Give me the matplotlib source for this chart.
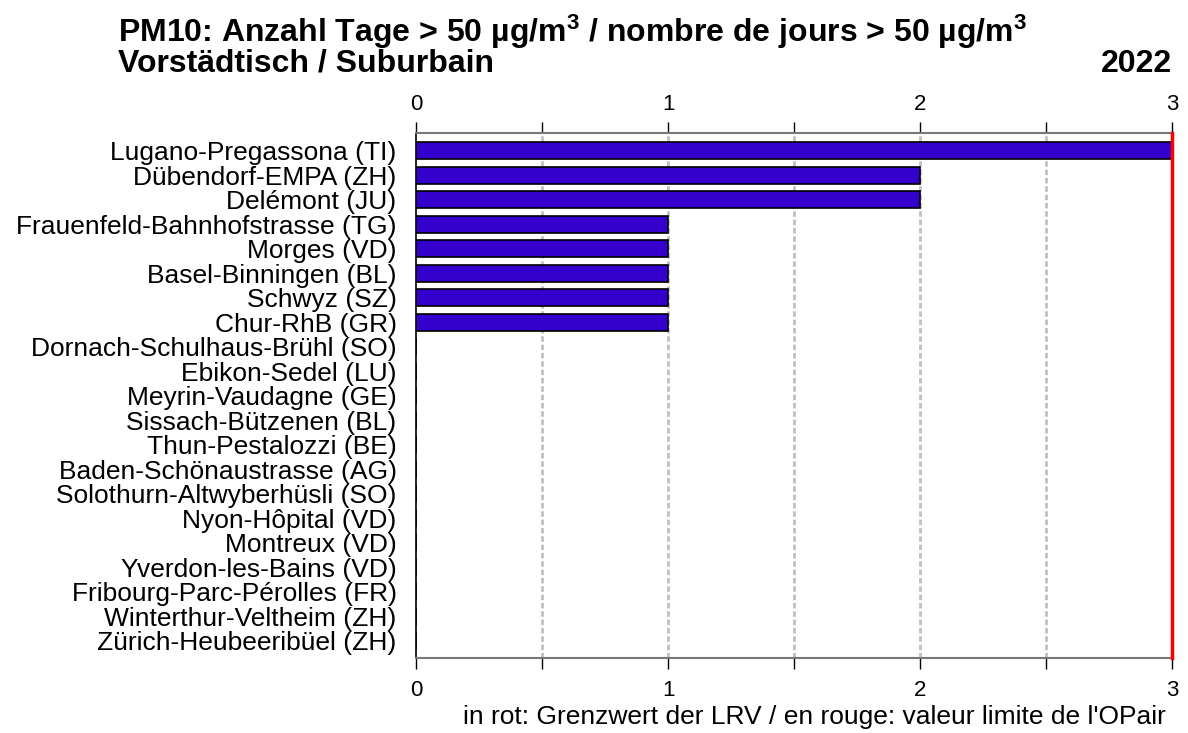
import numpy as np
import matplotlib
matplotlib.use('Agg')
import matplotlib.pyplot as plt

plt.rcParams['font.family'] = ['Liberation Sans', 'DejaVu Sans']
plt.rcParams['mathtext.fontset'] = 'custom'
plt.rcParams['mathtext.rm'] = 'Liberation Sans'
plt.rcParams['mathtext.bf'] = 'Liberation Sans:bold'
plt.rcParams['mathtext.default'] = 'bf'

# Stationen und Anzahl Tage > 50 µg/m3
stations = [
    "Lugano-Pregassona (TI)", "Dübendorf-EMPA (ZH)", "Delémont (JU)",
    "Frauenfeld-Bahnhofstrasse (TG)", "Morges (VD)", "Basel-Binningen (BL)",
    "Schwyz (SZ)", "Chur-RhB (GR)", "Dornach-Schulhaus-Brühl (SO)",
    "Ebikon-Sedel (LU)", "Meyrin-Vaudagne (GE)", "Sissach-Bützenen (BL)",
    "Thun-Pestalozzi (BE)", "Baden-Schönaustrasse (AG)",
    "Solothurn-Altwyberhüsli (SO)", "Nyon-Hôpital (VD)", "Montreux (VD)",
    "Yverdon-les-Bains (VD)", "Fribourg-Parc-Pérolles (FR)",
    "Winterthur-Veltheim (ZH)", "Zürich-Heubeeribüel (ZH)",
]
days = [3, 2, 2, 1, 1, 1, 1, 1, 0, 0, 0, 0, 0, 0, 0, 0, 0, 0, 0, 0, 0]
limit = 3
xmax = 3
xticks = [0, 1, 2, 3]
year = "2022"

fig = plt.figure(figsize=(11.88, 7.33), dpi=100)
ax = fig.add_axes([0.3502, 0.1023, 0.6363, 0.7163])

y = np.arange(len(stations))
ax.barh(y, days, height=0.7, color='#3300cc', edgecolor='black', linewidth=1.2, zorder=3)
ax.axvline(limit, color='red', linewidth=2.5, zorder=5, clip_on=False)

ax.set_xlim(0, xmax)
ax.set_ylim(len(stations) - 0.3, -0.72)
ax.set_yticks(y)
ax.set_yticklabels(stations, fontsize=19)
ax.tick_params(axis='y', length=0, pad=14)

# untere Achse
ax.set_xticks(xticks)
ax.set_xticks(np.arange(0.5, xmax, 1.0), minor=True)
ax.tick_params(axis='x', which='both', length=8, width=1, direction='out',
               labelsize=16, pad=8, color='black')

# obere Achse
top = ax.secondary_xaxis('top')
top.set_xticks(xticks)
top.set_xticks(np.arange(0.5, xmax, 1.0), minor=True)
top.tick_params(axis='x', which='both', length=8, width=1, direction='out',
                labelsize=16, pad=5, color='black')
top.spines['top'].set_visible(False)

for gx in np.arange(0.5, xmax, 0.5):
    ax.axvline(gx, color='#c0c0c0', linewidth=2, linestyle=(0, (2, 1)), zorder=1)

ax.spines['left'].set_color('black')
ax.spines['left'].set_linewidth(1.2)
ax.spines['top'].set_color('#777777')
ax.spines['bottom'].set_color('#777777')
ax.spines['top'].set_linewidth(1.5)
ax.spines['bottom'].set_linewidth(1.5)
ax.spines['right'].set_visible(False)

fig.text(0.0993, 0.9427, r"PM10: Anzahl Tage > 50 µg/m$^3$ / nombre de jours > 50 µg/m$^3$",
         fontsize=23, fontweight='bold', ha='left', va='baseline')
fig.text(0.0993, 0.9030, "Vorstädtisch / Suburbain",
         fontsize=23, fontweight='bold', ha='left', va='baseline')
fig.text(0.9865, 0.9015, year, fontsize=23, fontweight='bold', ha='right', va='baseline')
fig.text(0.981, 0.0120, "in rot: Grenzwert der LRV / en rouge: valeur limite de l'OPair",
         fontsize=19, ha='right', va='baseline')

fig.savefig('out.png', dpi=100)
